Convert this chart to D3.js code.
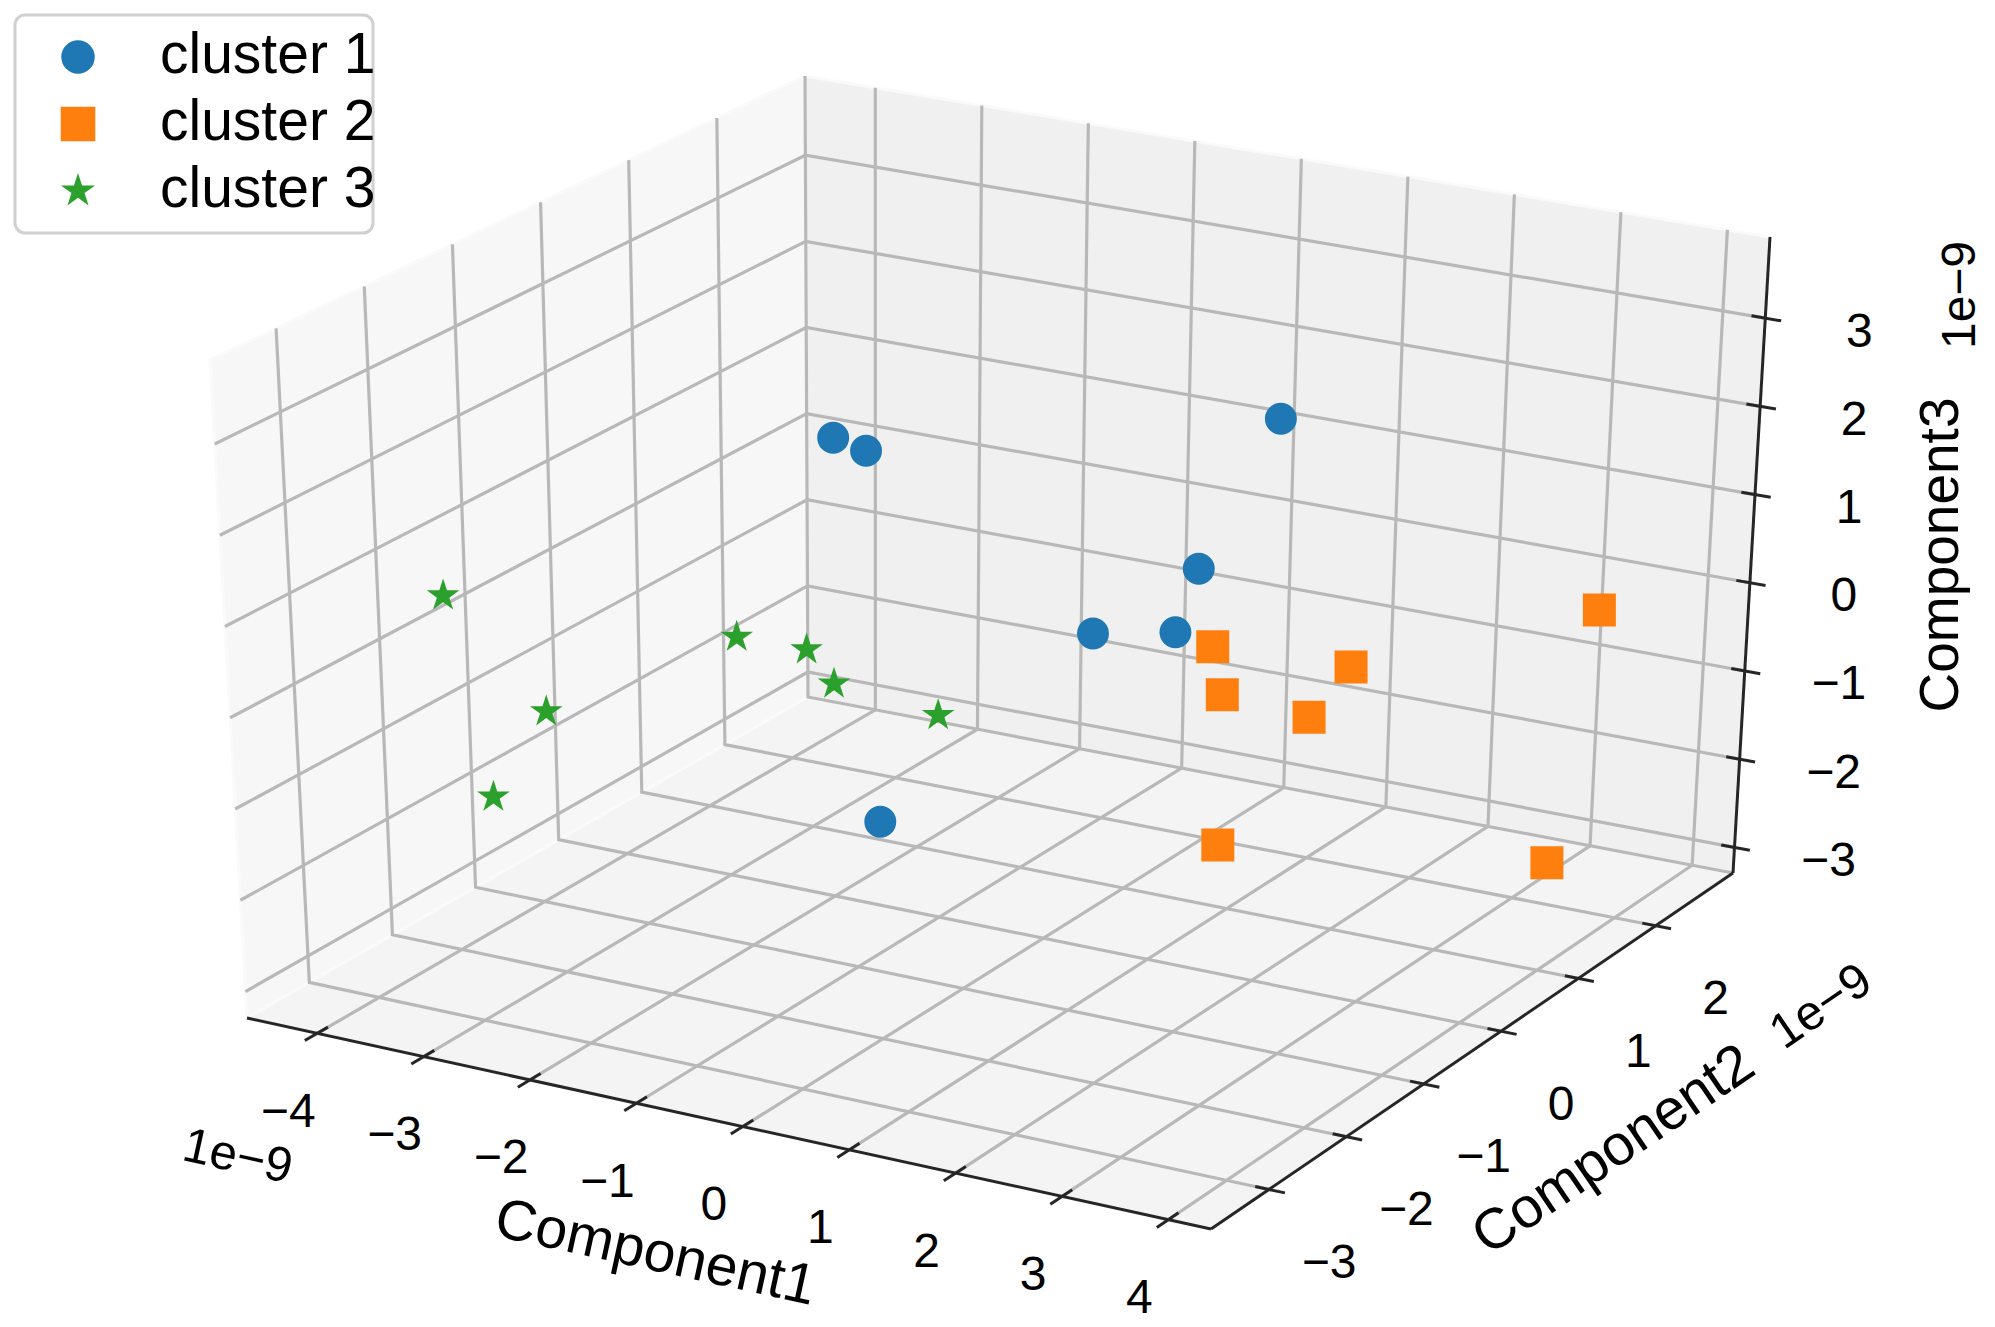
<!DOCTYPE html>
<html>
<head>
<meta charset="utf-8">
<script src="https://cdn.jsdelivr.net/npm/d3@7"></script>
<style>
  body { margin: 0; background: #fff; }
  text { font-family: "Liberation Sans", Arial, sans-serif; fill: #000; }
</style>
</head>
<body>
<svg id="chart" width="1995" height="1327"></svg>
<script>
// ── Data (values in units of 1e-9) ──
const clusterNames = ["cluster 1", "cluster 2", "cluster 3"];
const cluster1 = [
  [-2.78, 1.0, 1.17], [-2.31, 0.8, 1.23], [0.65, 2.0, 1.61], [0.29, 1.5, 0.10],
  [0.07, 0.5, -0.14], [0.31, 1.2, -0.45], [-0.39, -1.5, -1.27]
];
const cluster2 = [
  [0.82, 1.0, -0.39], [1.30, 0.5, -0.55], [1.53, 1.8, -0.90], [2.35, 0.2, -0.40],
  [3.35, 2.5, -0.25], [2.41, -1.0, -1.14], [3.69, 1.5, -2.45]
];
const cluster3 = [
  [-3.64, -2.5, 0.97], [-3.28, -1.8, -0.58], [-2.84, -3.0, -0.80], [-2.51, -0.5, -0.24],
  [-2.09, -0.2, -0.44], [-1.36, -0.8, -0.34], [-0.07, -1.2, -0.18]
];

// ── Axis limits and ticks ──
const xLim = [-4.66, 4.40];
const yLim = [-3.75, 3.0];
const zLim = [-3.29, 3.92];
const xTicks = [-4, -3, -2, -1, 0, 1, 2, 3, 4];
const yTicks = [-3, -2, -1, 0, 1, 2];
const yGrid = [-3, -2, -1, 0, 1, 2, 3];
const zTicks = [-3, -2, -1, 0, 1, 2, 3];

// ── Layout ──
const colors = ["#1f77b4", "#ff7f0e", "#2ca02c"];
const symbols = [d3.symbolCircle, d3.symbolSquare, d3.symbolStar];
const symbolSizes = [800, 1089, 330];

// screen position of the 8 box corners (x lo/hi, y lo/hi, z lo/hi)
const box = {
  A: [247, 1018],  // xmin ymin zmin
  B: [1211, 1229], // xmax ymin zmin
  C: [1733, 873],  // xmax ymax zmin
  D: [808, 697],   // xmin ymax zmin
  E: [210, 360],   // xmin ymin zmax
  F: [1214, 552],  // xmax ymin zmax
  G: [1770, 237],  // xmax ymax zmax
  H: [805, 76]     // xmin ymax zmax
};

const svg = d3.select("#chart");

// ── Scales: data -> unit cube ──
const sx = d3.scaleLinear().domain(xLim).range([0, 1]);
const sy = d3.scaleLinear().domain(yLim).range([0, 1]);
const sz = d3.scaleLinear().domain(zLim).range([0, 1]);

const lerp = (p, q, t) => [p[0] + (q[0] - p[0]) * t, p[1] + (q[1] - p[1]) * t];

function quad(p00, p10, p11, p01, u, v) {
  return lerp(lerp(p00, p10, u), lerp(p01, p11, u), v);
}

function project(x, y, z) {
  const u = sx(x), v = sy(y), w = sz(z);
  const lo = quad(box.A, box.B, box.C, box.D, u, v);
  const hi = quad(box.E, box.F, box.G, box.H, u, v);
  return lerp(lo, hi, w);
}

const line = d3.line();
const [x0, x1] = xLim, [y0, y1] = yLim, [z0, z1] = zLim;

// ── Panes ──
const panes = [
  { pts: [[x0, y0, z0], [x0, y1, z0], [x0, y1, z1], [x0, y0, z1]], fill: "#f7f7f7" },
  { pts: [[x0, y1, z0], [x1, y1, z0], [x1, y1, z1], [x0, y1, z1]], fill: "#f0f0f0" },
  { pts: [[x0, y0, z0], [x1, y0, z0], [x1, y1, z0], [x0, y1, z0]], fill: "#f4f4f4" }
];
svg.append("g").selectAll("path")
  .data(panes)
  .join("path")
  .attr("d", d => line(d.pts.map(p => project(...p))) + "Z")
  .attr("fill", d => d.fill)
  .attr("stroke", "#fafafa")
  .attr("stroke-width", 3);

// ── Grid lines ──
const grid = svg.append("g")
  .attr("fill", "none")
  .attr("stroke", "#b8b8b8")
  .attr("stroke-width", 3.2);

grid.selectAll(".gx")
  .data(xTicks)
  .join("path")
  .attr("d", x => line([[x, y0, z0], [x, y1, z0], [x, y1, z1]].map(p => project(...p))));

grid.selectAll(".gy")
  .data(yGrid)
  .join("path")
  .attr("d", y => line([[x1, y, z0], [x0, y, z0], [x0, y, z1]].map(p => project(...p))));

grid.selectAll(".gz")
  .data(zTicks)
  .join("path")
  .attr("d", z => line([[x0, y0, z], [x0, y1, z], [x1, y1, z]].map(p => project(...p))));

// ── Axis lines ──
const axes = svg.append("g")
  .attr("fill", "none")
  .attr("stroke", "#262626")
  .attr("stroke-width", 3);

axes.append("path").attr("d", line([project(x0, y0, z0), project(x1, y0, z0)]));
axes.append("path").attr("d", line([project(x1, y0, z0), project(x1, y1, z0)]));
axes.append("path").attr("d", line([project(x1, y1, z0), project(x1, y1, z1)]));

// tick marks
const tIn = 0.13, tOut = 0.15;
axes.selectAll(".tx")
  .data(xTicks)
  .join("path")
  .attr("d", x => line([project(x, y0 + tIn, z0), project(x, y0 - tOut, z0)]));
axes.selectAll(".ty")
  .data(yTicks)
  .join("path")
  .attr("d", y => line([project(x1 - tIn, y, z0), project(x1 + tOut, y, z0)]));
axes.selectAll(".tz")
  .data(zTicks)
  .join("path")
  .attr("d", z => line([project(x1 - tIn, y1, z), project(x1 + tOut, y1, z)]));

// ── Tick labels ──
const fmt = d => d < 0 ? "\u2212" + Math.abs(d) : String(d);
const labels = svg.append("g")
  .attr("font-size", 48)
  .attr("text-anchor", "middle")
  .attr("dominant-baseline", "central");

labels.selectAll(".lx")
  .data(xTicks)
  .join("text")
  .attr("x", x => project(x, y0, z0)[0] - 29)
  .attr("y", x => project(x, y0, z0)[1] + 77)
  .text(fmt);

labels.selectAll(".ly")
  .data(yTicks)
  .join("text")
  .attr("x", y => project(x1, y, z0)[0] + 60)
  .attr("y", y => project(x1, y, z0)[1] + 72)
  .text(fmt);

labels.selectAll(".lz")
  .data(zTicks)
  .join("text")
  .attr("x", z => project(x1, y1, z)[0] + 94)
  .attr("y", z => project(x1, y1, z)[1] + 12)
  .text(fmt);

// ── Axis titles and offset texts ──
const angle = (p, q) => Math.atan2(q[1] - p[1], q[0] - p[0]) * 180 / Math.PI;
const mid = (p, q) => lerp(p, q, 0.5);

const xa = [project(x0, y0, z0), project(x1, y0, z0)];
const ya = [project(x1, y0, z0), project(x1, y1, z0)];
const za = [project(x1, y1, z0), project(x1, y1, z1)];

const titles = [
  { text: "Component1", at: mid(...xa), dx: -73, dy: 127, rot: angle(...xa), size: 57 },
  { text: "1e\u22129", at: xa[0], dx: -9, dy: 137, rot: angle(...xa), size: 49 },
  { text: "Component2", at: mid(...ya), dx: 140, dy: 97, rot: angle(...ya), size: 57 },
  { text: "1e\u22129", at: ya[1], dx: 87, dy: 132, rot: angle(...ya), size: 49 },
  { text: "Component3", at: mid(...za), dx: 187, dy: 0, rot: -90, size: 55 },
  { text: "1e\u22129", at: za[1], dx: 188, dy: 58, rot: -90, size: 48 }
];

svg.append("g").selectAll("text")
  .data(titles)
  .join("text")
  .attr("text-anchor", "middle")
  .attr("dominant-baseline", "central")
  .attr("font-size", d => d.size)
  .attr("transform", d => `translate(${d.at[0] + d.dx},${d.at[1] + d.dy}) rotate(${d.rot})`)
  .text(d => d.text);

// ── Points ──
const series = [cluster1, cluster2, cluster3];
series.forEach((pts, i) => {
  svg.append("g").selectAll("path")
    .data(pts)
    .join("path")
    .attr("transform", d => `translate(${project(...d)})`)
    .attr("d", d3.symbol().type(symbols[i]).size(symbolSizes[i]))
    .attr("fill", colors[i]);
});

// ── Legend ──
const legend = svg.append("g");
legend.append("rect")
  .attr("x", 15).attr("y", 15)
  .attr("width", 358).attr("height", 218)
  .attr("rx", 10)
  .attr("fill", "#fff")
  .attr("stroke", "#d0d0d0")
  .attr("stroke-width", 3);

const items = legend.selectAll(".item")
  .data(clusterNames)
  .join("g")
  .attr("transform", (d, i) => `translate(0,${57 + i * 67})`);

items.append("path")
  .attr("transform", "translate(78,0)")
  .attr("d", (d, i) => d3.symbol().type(symbols[i]).size(symbolSizes[i] * 1.1)())
  .attr("fill", (d, i) => colors[i]);

items.append("text")
  .attr("x", 160)
  .attr("y", 16)
  .attr("font-size", 57)
  .text(d => d);
</script>
</body>
</html>
